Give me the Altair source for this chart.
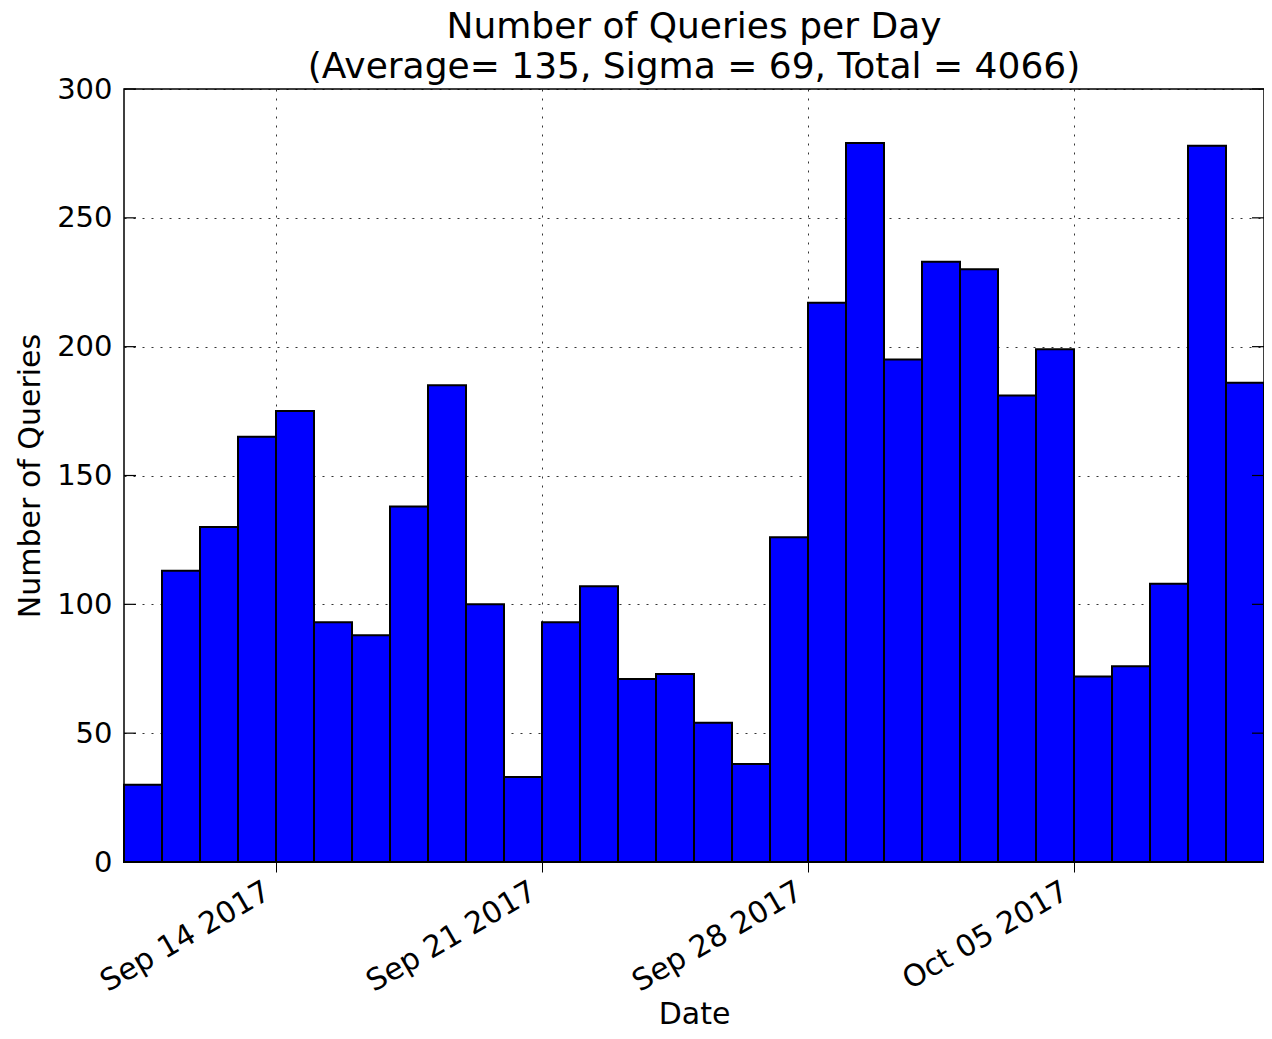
import altair as alt
import pandas as pd

# Data
start_dates = pd.date_range("2017-09-10", periods=30, freq="D")
queries = [30, 113, 130, 165, 175, 93, 88, 138, 185, 100,
           33, 93, 107, 71, 73, 54, 38, 126, 217, 279,
           195, 233, 230, 181, 199, 72, 76, 108, 278, 186]
y_ticks = [0, 50, 100, 150, 200, 250, 300]

df = pd.DataFrame({
    "start": [d.strftime("%Y-%m-%d") for d in start_dates],
    "end": [(d + pd.Timedelta(days=1)).strftime("%Y-%m-%d") for d in start_dates],
    "queries": queries,
})
ticks_df = pd.DataFrame({"v": y_ticks})

W, H = 1140, 773
FONT = "DejaVu Sans"

x_scale = alt.Scale(type="utc",
                    domain=[alt.DateTime(year=2017, month=9, date=10, utc=True),
                            alt.DateTime(year=2017, month=10, date=10, utc=True)],
                    nice=False)
y_scale = alt.Scale(domain=[0, 300], nice=False)

x_tick_values = [alt.DateTime(year=2017, month=9, date=14, utc=True),
                 alt.DateTime(year=2017, month=9, date=21, utc=True),
                 alt.DateTime(year=2017, month=9, date=28, utc=True),
                 alt.DateTime(year=2017, month=10, date=5, utc=True)]

bars = alt.Chart(df).mark_rect(color="#0000ff", stroke="black", strokeWidth=2).encode(
    x=alt.X("start:T", scale=x_scale,
            axis=alt.Axis(title="Date", values=x_tick_values,
                          labelExpr="utcFormat(datum.value, '%b %d %Y')",
                          labelAngle=330, labelAlign="right", labelBaseline="top",
                          labelPadding=4, labelOffset=-16, labelLimit=400,
                          tickSize=10, tickColor="black",
                          grid=True, gridColor="black", gridDash=[2, 7],
                          gridOpacity=0.8, domain=False,
                          labelFontSize=30, titleFontSize=30, labelFont=FONT,
                          titleFont=FONT, labelColor="black", titleColor="black",
                          titleFontWeight="normal", titleBaseline="alphabetic",
                          titleY=161)),
    x2="end:T",
    y=alt.Y("queries:Q", scale=y_scale,
            axis=alt.Axis(title="Number of Queries", values=y_ticks, ticks=False,
                          labelPadding=12, grid=True, gridColor="black",
                          gridDash=[2, 7], gridOpacity=0.8, domain=False,
                          labelFontSize=29, titleFontSize=30, labelFont=FONT,
                          titleFont=FONT, labelColor="black", titleColor="black",
                          titleFontWeight="normal", titlePadding=11)),
    y2=alt.datum(0),
)

left_ticks = alt.Chart(ticks_df).mark_rule(color="black", strokeWidth=1.2).encode(
    y=alt.Y("v:Q", scale=y_scale), x=alt.value(0), x2=alt.value(12))
right_ticks = alt.Chart(ticks_df).mark_rule(color="black", strokeWidth=1.2).encode(
    y=alt.Y("v:Q", scale=y_scale), x=alt.value(W - 12), x2=alt.value(W))

chart = alt.layer(bars, left_ticks, right_ticks).properties(
    width=W, height=H,
    title=alt.TitleParams(
        text=["Number of Queries per Day", "(Average= 135, Sigma = 69, Total = 4066)"],
        font=FONT, fontSize=36, fontWeight="normal", color="black",
        anchor="middle", frame="group", lineHeight=40, offset=-11),
    autosize=alt.AutoSizeParams(type="none"),
    padding={"left": 116, "top": 81, "right": 0, "bottom": 169},
).configure(background="white",
            view=alt.ViewConfig(stroke="black", strokeWidth=1.5))

chart.save("out.html", embed_options={"renderer": "svg", "actions": False})
